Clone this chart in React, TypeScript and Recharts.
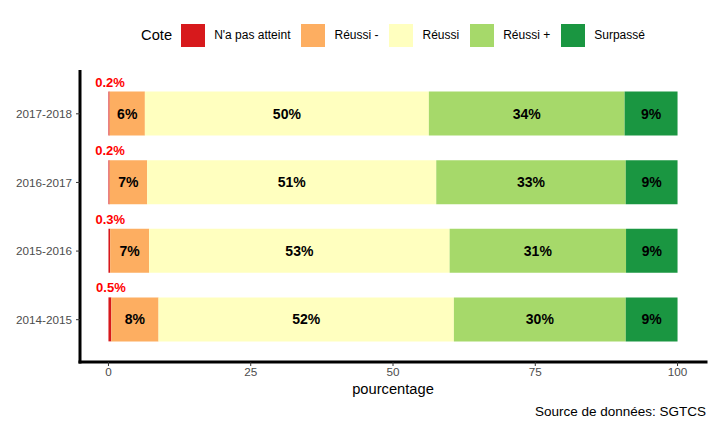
import React from "react";
import { Bar, BarChart, LabelList, XAxis, YAxis } from "recharts";

const years = ["2017-2018", "2016-2017", "2015-2016", "2014-2015"];
const nonAtteint = [0.2, 0.2, 0.3, 0.5];
const reussiMoins = [6.2, 6.6, 6.85, 8.3];
const reussi = [49.9, 50.8, 52.8, 51.9];
const reussiPlus = [34.4, 33.3, 31.0, 30.2];
const surpasse = [9.3, 9.1, 9.05, 9.1];
const xTicks = [0, 25, 50, 75, 100];

const series = [
  { key: "nonAtteint", name: "N'a pas atteint", color: "#d7191c", values: nonAtteint },
  { key: "reussiMoins", name: "Réussi -", color: "#fdae61", values: reussiMoins },
  { key: "reussi", name: "Réussi", color: "#ffffbf", values: reussi },
  { key: "reussiPlus", name: "Réussi +", color: "#a6d96a", values: reussiPlus },
  { key: "surpasse", name: "Surpassé", color: "#1a9641", values: surpasse },
];

const data = years.map((year, i) => {
  const row: Record<string, any> = { year };
  series.forEach((s) => (row[s.key] = s.values[i]));
  return row;
});

const FONT = '"Liberation Sans", Arial, sans-serif';

function box(props: any) {
  const vb = props.viewBox && props.viewBox.width != null ? props.viewBox : props;
  return { x: Number(vb.x), y: Number(vb.y), w: Number(vb.width), h: Number(vb.height) };
}

const InsideLabel = (props: any) => {
  const { x, y, w, h } = box(props);
  return (
    <text
      x={x + w / 2}
      y={y + h / 2}
      textAnchor="middle"
      dominantBaseline="central"
      fontWeight="bold"
      fontSize={14}
      fontFamily={FONT}
      fill="#000"
    >
      {Math.round(Number(props.value))}%
    </text>
  );
};

const TopLabel = (props: any) => {
  const { x, y, w } = box(props);
  return (
    <text
      x={x + w / 2 + 1}
      y={y - 5}
      textAnchor="middle"
      fontWeight="bold"
      fontSize={13}
      fontFamily={FONT}
      fill="#ff0000"
    >
      {props.value}%
    </text>
  );
};

export default function App() {
  return (
    <div
      style={{
        position: "absolute",
        left: 0,
        top: 0,
        width: 713,
        height: 427,
        background: "#fff",
        fontFamily: FONT,
      }}
    >
      {/* legend */}
      <div
        style={{
          position: "absolute",
          left: 80,
          width: 626,
          top: 23,
          height: 24,
          display: "flex",
          alignItems: "center",
          justifyContent: "center",
        }}
      >
        <span style={{ fontSize: 14.7, color: "#000", marginRight: 9 }}>Cote</span>
        {series.map((s, i) => (
          <span
            key={s.key}
            style={{ display: "flex", alignItems: "center", marginRight: i === series.length - 1 ? 0 : 11 }}
          >
            <span style={{ width: 24, height: 23, background: s.color, display: "inline-block" }} />
            <span style={{ fontSize: 12, color: "#000", marginLeft: 9 }}>{s.name}</span>
          </span>
        ))}
      </div>

      <BarChart
        width={713}
        height={427}
        data={data}
        layout="vertical"
        margin={{ top: 71.5, right: 7, bottom: 35, left: 0 }}
      >
        <XAxis
          type="number"
          domain={[-5, 105]}
          ticks={xTicks}
          allowDataOverflow
          height={30}
          axisLine={{ stroke: "#000", strokeWidth: 3, strokeLinecap: "square" }}
          tickLine={{ stroke: "#333" }}
          tickSize={4}
          tickMargin={2}
          tick={{ fill: "#4d4d4d", fontSize: 11.7, fontFamily: FONT }}
        />
        <YAxis
          type="category"
          dataKey="year"
          width={80}
          padding={{ top: 8, bottom: 8 }}
          axisLine={{ stroke: "#000", strokeWidth: 3, strokeLinecap: "square" }}
          tickLine={{ stroke: "#333" }}
          tickSize={4}
          tickMargin={4}
          tick={{ fill: "#4d4d4d", fontSize: 11.7, fontFamily: FONT }}
        />
        {series.map((s) => (
          <Bar
            key={s.key}
            dataKey={s.key}
            name={s.name}
            stackId="a"
            fill={s.color}
            barSize={44}
            isAnimationActive={false}
          >
            <LabelList
              dataKey={s.key}
              content={s.key === "nonAtteint" ? TopLabel : InsideLabel}
            />
          </Bar>
        ))}
      </BarChart>

      <div
        style={{
          position: "absolute",
          left: 80,
          width: 626,
          top: 381,
          textAlign: "center",
          fontSize: 14.7,
          color: "#000",
        }}
      >
        pourcentage
      </div>
      <div
        style={{
          position: "absolute",
          right: 7,
          top: 404,
          fontSize: 13.5,
          color: "#000",
        }}
      >
        Source de données: SGTCS
      </div>
    </div>
  );
}
